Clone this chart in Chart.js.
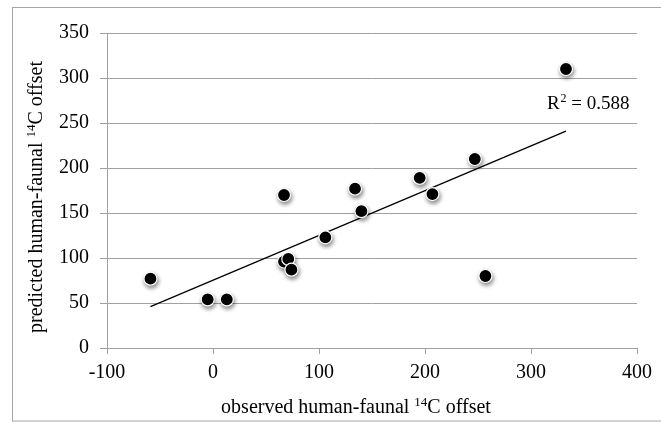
<!DOCTYPE html>
<html>
<head>
<meta charset="utf-8">
<script src="https://cdn.jsdelivr.net/npm/chart.js@4.4.1/dist/chart.umd.min.js"></script>
<style>
html, body { margin: 0; padding: 0; background: #fff; }
</style>
</head>
<body>
<canvas id="offsetChart" width="661" height="423"></canvas>
<script>
// values
var observed  = [-59, -5, 13, 67, 67, 71, 74, 106, 134, 140, 195, 207, 247, 257, 333];
var predicted = [77, 54, 54, 170, 96, 99, 87, 123, 177, 152, 189, 171, 210, 80, 310];
var trendX = [-59, 333];
var trendY = [46, 241];
var xTicks = [-100, 0, 100, 200, 300, 400];
var yTicks = [0, 50, 100, 150, 200, 250, 300, 350];
var xTitle = ['observed human-faunal ', '14', 'C offset'];
var yTitle = ['predicted human-faunal ', '14', 'C offset'];
var rLabel = '0.588';

var serif = "'Liberation Serif', 'DejaVu Serif', serif";
Chart.defaults.font.family = serif;
Chart.defaults.color = '#000';

var points = observed.map(function (x, i) { return { x: x, y: predicted[i] }; });
var trend = trendX.map(function (x, i) { return { x: x, y: trendY[i] }; });

// soft shadow under the dots
var dotShadow = {
    id: 'dotShadow',
    beforeDatasetDraw: function (chart, args) {
        if (args.index !== 0) return;
        var ctx = chart.ctx;
        ctx.save();
        ctx.shadowColor = 'rgba(0,0,0,0.45)';
        ctx.shadowBlur = 4;
        ctx.shadowOffsetX = 1;
        ctx.shadowOffsetY = 2.5;
    },
    afterDatasetDraw: function (chart, args) {
        if (args.index !== 0) return;
        chart.ctx.restore();
    }
};

// text with a superscript part: [before, sup, after], centred on (cx, cy)
function supText(ctx, parts, cx, cy) {
    var big = '20px ' + serif, small = '13px ' + serif;
    ctx.font = big;
    var w0 = ctx.measureText(parts[0]).width;
    var w2 = ctx.measureText(parts[2]).width;
    ctx.font = small;
    var w1 = ctx.measureText(parts[1]).width;
    var x = cx - (w0 + w1 + w2) / 2;
    ctx.textAlign = 'left';
    ctx.textBaseline = 'alphabetic';
    ctx.font = big;
    ctx.fillText(parts[0], x, cy);
    ctx.font = small;
    ctx.fillText(parts[1], x + w0, cy - 7);
    ctx.font = big;
    ctx.fillText(parts[2], x + w0 + w1, cy);
}

// outer frame, axis titles, R² label
var extras = {
    id: 'extras',
    beforeDraw: function (chart) {
        var ctx = chart.ctx;
        ctx.save();
        ctx.strokeStyle = '#a6a6a6';
        ctx.lineWidth = 1;
        ctx.strokeRect(12.5, 7.5, 700, 413.5);
        ctx.restore();
    },
    afterDraw: function (chart) {
        var ctx = chart.ctx;
        ctx.save();
        ctx.fillStyle = '#000';
        supText(ctx, xTitle, 356, 413);
        ctx.translate(42, 197);
        ctx.rotate(-Math.PI / 2);
        supText(ctx, yTitle, 0, 0);
        ctx.restore();

        var x = chart.scales.x.getPixelForValue(315);
        var y = chart.scales.y.getPixelForValue(266);
        ctx.save();
        ctx.fillStyle = '#000';
        ctx.textBaseline = 'alphabetic';
        ctx.font = '19px ' + serif;
        ctx.fillText('R', x, y);
        var w = ctx.measureText('R').width;
        ctx.font = '12px ' + serif;
        ctx.fillText('2', x + w + 1, y - 7);
        var w2 = ctx.measureText('2').width;
        ctx.font = '19px ' + serif;
        ctx.fillText(' = ' + rLabel, x + w + w2 + 1, y);
        ctx.restore();
    }
};

new Chart(document.getElementById('offsetChart'), {
    type: 'scatter',
    data: {
        datasets: [{
            data: points,
            backgroundColor: '#000',
            borderColor: '#fff',
            borderWidth: 1.2,
            pointRadius: 6.5,
            pointHoverRadius: 6.5
        }, {
            type: 'line',
            data: trend,
            borderColor: '#000',
            borderWidth: 1.3,
            pointRadius: 0,
            fill: false
        }]
    },
    options: {
        responsive: false,
        animation: false,
        layout: { padding: { left: 12, right: 24, top: 33, bottom: 2 } },
        plugins: {
            legend: { display: false },
            tooltip: { enabled: false }
        },
        scales: {
            x: {
                type: 'linear',
                min: xTicks[0],
                max: xTicks[xTicks.length - 1],
                afterFit: function (s) { s.height = 73; },
                ticks: { stepSize: 100, padding: 7, font: { size: 20 } },
                grid: { drawOnChartArea: false, color: '#a0a0a0', tickLength: 6 },
                border: { color: '#a0a0a0' }
            },
            y: {
                min: yTicks[0],
                max: yTicks[yTicks.length - 1],
                afterFit: function (s) { s.width = 95; },
                ticks: { stepSize: 50, padding: 11, font: { size: 20 } },
                grid: { color: '#a0a0a0', tickLength: 7 },
                border: { color: '#a0a0a0' }
            }
        }
    },
    plugins: [dotShadow, extras]
});
</script>
</body>
</html>
